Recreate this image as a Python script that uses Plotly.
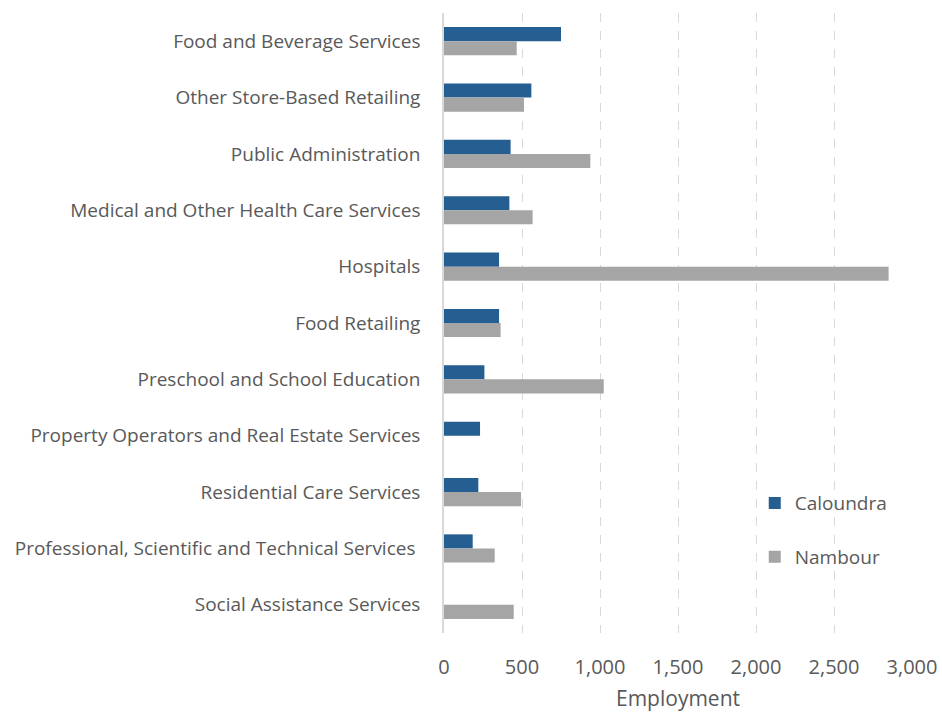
import plotly.graph_objects as go

categories = [
    "Food and Beverage Services",
    "Other Store-Based Retailing",
    "Public Administration",
    "Medical and Other Health Care Services",
    "Hospitals",
    "Food Retailing",
    "Preschool and School Education",
    "Property Operators and Real Estate Services",
    "Residential Care Services",
    "Professional, Scientific and Technical Services ",
    "Social Assistance Services",
]
caloundra = [750, 560, 427, 419, 353, 353, 259, 231, 220, 184, 0]
nambour = [466, 513, 938, 568, 2850, 363, 1024, 0, 494, 325, 447]
x_ticks = [0, 500, 1000, 1500, 2000, 2500, 3000]
x_tick_labels = ["0", "500", "1,000", "1,500", "2,000", "2,500", "3,000"]

FONT = "'Open Sans', Lato, sans-serif"
TXT = "#595959"

fig = go.Figure()
fig.add_trace(go.Bar(
    y=categories, x=caloundra, name="Caloundra", orientation="h",
    marker=dict(color="#255e91", line=dict(width=0)),
    legendgroup="a",
))
fig.add_trace(go.Bar(
    y=categories, x=nambour, name="Nambour", orientation="h",
    marker=dict(color="#a5a5a5", line=dict(width=0)),
    legendgroup="b",
))

fig.update_layout(
    width=942, height=712,
    paper_bgcolor="white", plot_bgcolor="white",
    barmode="group", bargap=0.5, bargroupgap=0,
    margin=dict(l=444, r=30, t=13, b=79, autoexpand=False),
    font=dict(family=FONT, color=TXT, size=18),
    legend=dict(
        x=0.664, y=0.24, xanchor="left", yanchor="top",
        font=dict(size=19, color=TXT), tracegroupgap=26,
        bgcolor="rgba(0,0,0,0)",
    ),
    xaxis=dict(
        range=[0, 3000], tickvals=x_ticks, ticktext=x_tick_labels,
        showgrid=True, gridcolor="#d9d9d9", griddash="dash", gridwidth=1,
        zeroline=False, showline=False, automargin=False,
        tickfont=dict(size=20, color=TXT),
        title=dict(text="Employment", font=dict(size=21, color=TXT), standoff=16),
        ticks="", ticklabelstandoff=20,
    ),
    yaxis=dict(
        autorange="reversed", showline=True, linecolor="#d9d9d9", linewidth=1.5,
        showgrid=False, ticks="", ticklabelstandoff=18, automargin=False,
        tickfont=dict(size=19, color=TXT),
    ),
)

fig.write_html("out.html", post_script="document.body.style.margin='0';",
               config={"displayModeBar": False})
